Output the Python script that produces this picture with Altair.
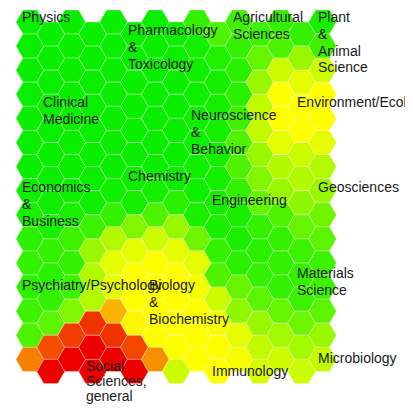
import altair as alt
import pandas as pd

# value per hexagon, one list per grid column (top row first); 0 = green, 0.5 = yellow, 1 = red
col0 = [0.02, 0.02, 0.02, 0.02, 0.02, 0.02, 0.02, 0.03, 0.05, 0.08, 0.10, 0.08, 0.12, 0.15, 0.75]
col1 = [0.02, 0.02, 0.02, 0.02, 0.02, 0.02, 0.02, 0.03, 0.05, 0.10, 0.08, 0.10, 0.18, 0.85, 1.00]
col2 = [0.02, 0.02, 0.02, 0.02, 0.02, 0.02, 0.02, 0.03, 0.05, 0.12, 0.10, 0.12, 0.25, 0.88, 1.00]
col3 = [0.02, 0.02, 0.02, 0.02, 0.02, 0.02, 0.02, 0.03, 0.12, 0.30, 0.35, 0.35, 0.90, 1.00, 1.00]
col4 = [0.02, 0.02, 0.02, 0.02, 0.02, 0.02, 0.02, 0.03, 0.10, 0.35, 0.45, 0.45, 0.65, 0.90, 1.00]
col5 = [0.02, 0.02, 0.02, 0.02, 0.02, 0.02, 0.02, 0.04, 0.25, 0.45, 0.50, 0.50, 0.52, 0.86, 1.00]
col6 = [0.02, 0.02, 0.02, 0.02, 0.02, 0.02, 0.02, 0.04, 0.15, 0.40, 0.50, 0.50, 0.50, 0.50, 0.72]
col7 = [0.03, 0.02, 0.02, 0.02, 0.02, 0.02, 0.02, 0.08, 0.30, 0.45, 0.50, 0.50, 0.50, 0.50, 0.40]
col8 = [0.10, 0.04, 0.03, 0.03, 0.03, 0.03, 0.03, 0.03, 0.05, 0.22, 0.45, 0.48, 0.50, 0.50, 0.50]
col9 = [0.15, 0.06, 0.04, 0.04, 0.04, 0.04, 0.04, 0.04, 0.05, 0.10, 0.15, 0.40, 0.48, 0.50, 0.50]
col10 = [0.12, 0.10, 0.08, 0.08, 0.12, 0.15, 0.15, 0.10, 0.05, 0.05, 0.08, 0.20, 0.28, 0.45, 0.48]
col11 = [0.12, 0.20, 0.30, 0.38, 0.38, 0.30, 0.25, 0.20, 0.10, 0.08, 0.10, 0.18, 0.30, 0.38, 0.42]
col12 = [0.10, 0.15, 0.40, 0.50, 0.50, 0.45, 0.35, 0.30, 0.15, 0.10, 0.10, 0.10, 0.20, 0.32, 0.40]
col13 = [0.10, 0.30, 0.45, 0.50, 0.50, 0.40, 0.35, 0.28, 0.20, 0.12, 0.10, 0.12, 0.22, 0.32, 0.40]
col14 = [0.05, 0.12, 0.40, 0.50, 0.50, 0.45, 0.35, 0.30, 0.22, 0.18, 0.12, 0.12, 0.18, 0.30, 0.38]
columns = [col0, col1, col2, col3, col4, col5, col6, col7, col8, col9, col10, col11, col12, col13, col14]

# labels and their anchors in grid units (column, row)
labels = [
    "Physics", "Pharmacology\n&\nToxicology", "Agricultural\nSciences", "Plant\n&\nAnimal\nScience",
    "Clinical\nMedicine", "Neuroscience\n&\nBehavior", "Environment/Ecology", "Chemistry",
    "Economics\n&\nBusiness", "Engineering", "Geosciences", "Psychiatry/Psychology",
    "Biology\n&\nBiochemistry", "Materials\nScience", "Social\nSciences,\ngeneral",
    "Immunology", "Microbiology",
]
label_col = [-0.378, 4.694, 9.718, 13.785, 0.627, 7.708, 12.780, 4.694,
             -0.378, 8.713, 13.785, -0.378, 5.698, 12.780, 2.684, 8.713, 13.785]
label_row = [-0.208, 0.332, -0.208, -0.208, 3.319, 3.859, 3.319, 6.390,
             6.846, 7.386, 6.846, 10.913, 10.913, 10.415, 14.440, 14.481, 13.942]
bottom_label = "Social\nSciences,\ngeneral"

cells = pd.DataFrame(
    [{"col": i, "row": j, "value": v} for i, vals in enumerate(columns) for j, v in enumerate(vals)]
)
label_df = pd.DataFrame({"label": labels, "col": label_col, "row": label_row})
main_labels = label_df[label_df["label"] != bottom_label]
low_labels = label_df[label_df["label"] == bottom_label]

hex_path = "M-1,0L-0.5,-0.866L0.5,-0.866L1,0L0.5,0.866L-0.5,0.866Z"

xscale = alt.Scale(domain=[-1.048, 17.947], nice=False, zero=False)
yscale = alt.Scale(domain=[-0.581, 15.892], nice=False, zero=False, reverse=True)

hexes = alt.Chart(cells).transform_calculate(
    yy="datum.row + (datum.col % 2) * 0.5"
).mark_point(
    shape=hex_path, size=780, filled=True, opacity=1,
    stroke="white", strokeOpacity=0.35, strokeWidth=1,
).encode(
    x=alt.X("col:Q", scale=xscale, axis=None),
    y=alt.Y("yy:Q", scale=yscale, axis=None),
    color=alt.Color(
        "value:Q",
        scale=alt.Scale(domain=[0, 0.5, 1], range=["#00ee00", "#ffff00", "#ee0000"], interpolate="rgb"),
        legend=None,
    ),
)

text_style = dict(align="left", baseline="alphabetic", fontSize=14, font="Liberation Sans",
                  color="#1a1a1a", lineBreak="\n")

text = alt.Chart(main_labels).mark_text(dy=5, lineHeight=16.8, **text_style).encode(
    x=alt.X("col:Q", scale=xscale, axis=None),
    y=alt.Y("row:Q", scale=yscale, axis=None),
    text="label:N",
)

text_low = alt.Chart(low_labels).mark_text(dy=1, lineHeight=15, **text_style).encode(
    x=alt.X("col:Q", scale=xscale, axis=None),
    y=alt.Y("row:Q", scale=yscale, axis=None),
    text="label:N",
)

chart = alt.layer(hexes, text, text_low).properties(
    width=397, height=397, padding=0, autosize=alt.AutoSizeParams(type="none")
).configure_view(stroke=None)

chart.save("out.html", embed_options={"renderer": "svg", "actions": False})
